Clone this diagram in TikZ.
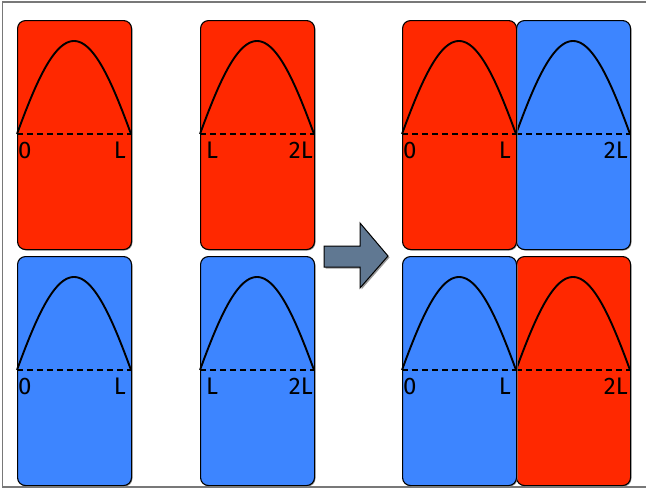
\documentclass[tikz,border=0pt]{standalone}
\usepackage{fontspec}
\setmainfont{Fira Sans}
\definecolor{cellred}{RGB}{255,40,0}
\definecolor{cellblue}{RGB}{61,133,255}
\definecolor{arrowfill}{RGB}{96,120,146}
\definecolor{framegray}{RGB}{120,120,120}
\tikzset{
  cellbox/.style={draw=black, line width=1.1pt, rounded corners=8pt},
  cellshadow/.style={fill=black!40, rounded corners=8pt},
  wave/.style={draw=black, line width=1.9pt},
  baseline dash/.style={draw=black, line width=1.6pt, dash pattern=on 6pt off 4pt},
  lbl/.style={font=\fontsize{24}{28}\selectfont, inner sep=0pt, text=black},
}
% #1 left x, #2 top y, #3 colour, #4 name, #5 left label, #6 left offset, #7 right label, #8 right offset
\newcommand\wcell[8]{%
  \fill[cellshadow] (#1+1.5,#2+1.5) rectangle ++(114,229);
  \node[cellbox, fill=#3, minimum width=114pt, minimum height=229pt, anchor=north west, inner sep=0pt] (#4) at (#1,#2) {};
  \draw[wave] plot[domain=0:180, samples=80] ({#1+\x/180*114}, {#2+114-93*(0.75*sin(\x)+0.25*(4*\x/180*(1-\x/180)))});
  \draw[baseline dash] (#1,#2+114) -- ++(114,0);
  \node[lbl, anchor=base west] (#4-l) at (#1+#6,#2+138) {#5};
  \node[lbl, anchor=base east] (#4-r) at (#1+114-#8,#2+138) {#7};
}
\begin{document}
\begin{tikzpicture}[x=1pt,y=-1pt]
\useasboundingbox (0,0) rectangle (646,491);
\fill[white] (0,0) rectangle (646,491);
\draw[framegray, line width=1.5pt] (660,2) -- (2.5,2) -- (2.5,487) -- (660,487);
% left column
\wcell{17}{20}{cellred}{a}{0}{1}{L}{5}
\wcell{17}{256}{cellblue}{b}{0}{1}{L}{5}
% middle column
\wcell{200}{20}{cellred}{c}{L}{6}{2L}{1}
\wcell{200}{256}{cellblue}{d}{L}{6}{2L}{1}
% right column
\wcell{516}{20}{cellblue}{f}{}{1}{2L}{2}
\wcell{402}{20}{cellred}{e}{0}{1}{L}{5}
\wcell{516}{256}{cellred}{h}{}{1}{2L}{2}
\wcell{402}{256}{cellblue}{g}{0}{1}{L}{5}
% arrow
\fill[black!40] (325.5,247.5) -- (361.5,247.5) -- (361.5,224.5) -- (389.5,257.5) -- (361.5,289.5) -- (361.5,268.5) -- (325.5,268.5) -- cycle;
\draw[fill=arrowfill, draw=black, line width=1pt, line join=miter] (324,246) -- (360,246) -- (360,223) -- (388,256) -- (360,288) -- (360,267) -- (324,267) -- cycle;
\end{tikzpicture}
\end{document}
